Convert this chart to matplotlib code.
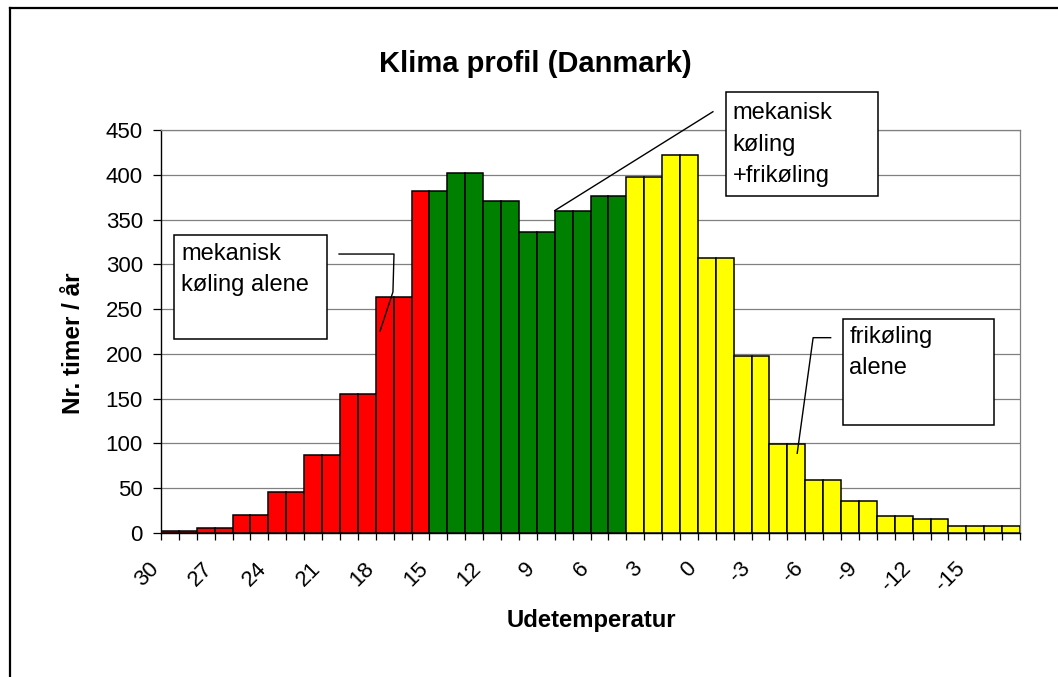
import matplotlib
matplotlib.use('Agg')
import matplotlib.pyplot as plt
import matplotlib.transforms as mtransforms
from matplotlib.patches import Rectangle
from matplotlib.lines import Line2D
import numpy as np

plt.rcParams['font.family'] = ['Liberation Sans', 'DejaVu Sans']

# Data: hours per year at each outdoor temperature (30 .. -17 C)
temps = list(range(30, -18, -1))
hours = [2, 2, 6, 6, 20, 20, 46, 46, 87, 87, 155, 155, 264, 264, 382,
         382, 402, 402, 371, 371, 336, 336, 360, 360, 376, 376,
         397, 397, 422, 422, 307, 307, 198, 198, 99, 99, 59, 59, 36, 36,
         19, 19, 16, 16, 8, 8, 8, 8]
label_step = 3
mech_only_above = 15   # mekanisk køling alene
free_only_below = 5    # frikøling alene

title = 'Klima profil (Danmark)'
xlabel = 'Udetemperatur'
ylabel = 'Nr. timer / år'
notes = ['mekanisk\nkøling alene', 'mekanisk\nkøling\n+frikøling', 'frikøling\nalene']

W, H = 1058, 677
fig = plt.figure(figsize=(W / 100, H / 100), dpi=100)
ax = fig.add_axes([161 / W, 1 - 533 / H, (1020 - 161) / W, (533 - 130) / H])

def zone_color(t):
    if t > mech_only_above:
        return '#FF0000'
    if t < free_only_below:
        return '#FFFF00'
    return '#008000'

x = np.arange(len(temps))
ax.bar(x, hours, width=1.0, align='edge', color=[zone_color(t) for t in temps],
       edgecolor='black', linewidth=1.1, zorder=3)

ax.set_xlim(0, len(temps))
ax.set_ylim(0, 450)
ax.set_yticks(np.arange(0, 451, 50))
ax.yaxis.grid(True, color='#808080', linewidth=0.9, zorder=0)
ax.tick_params(axis='y', direction='out', length=6, width=0.9, labelsize=16, pad=7)

ax.set_xticks(x[::label_step])
ax.set_xticklabels([str(t) for t in temps[::label_step]], rotation=45,
                   ha='right', va='baseline', rotation_mode='anchor', fontsize=16)
ax.set_xticks(np.arange(len(temps) + 1), minor=True)
ax.tick_params(axis='x', which='both', direction='out', length=5, width=0.9)
ax.tick_params(axis='x', which='major', pad=21)
shift = mtransforms.ScaledTranslation(-1 / 100, 0, fig.dpi_scale_trans)
for lab in ax.get_xticklabels():
    lab.set_transform(lab.get_transform() + shift)

for s in ['top', 'right']:
    ax.spines[s].set_color('#808080')
    ax.spines[s].set_linewidth(0.9)
for s in ['left', 'bottom']:
    ax.spines[s].set_color('black')
    ax.spines[s].set_linewidth(1.0)

fig.text(535.5 / W, 1 - 72 / H, title, ha='center', va='baseline',
         fontsize=21, fontweight='bold')
fig.text(591.5 / W, 1 - 627 / H, xlabel, ha='center', va='baseline',
         fontsize=17.2, fontweight='bold')
fig.text(74 / W, 1 - 343 / H, ylabel, ha='center', va='center', rotation=90,
         fontsize=17.5, fontweight='bold')

# Annotation boxes (data coordinates)
boxes = [(0.73, 216.6, 8.55, 116.5), (31.55, 376.3, 8.49, 115.8), (38.09, 120.6, 8.44, 118.0)]
text_pos = [(1.12, 324.0), (31.94, 481.0), (38.46, 231.0)]
leaders = [([9.95, 13.02, 12.96, 12.24], [311.5, 311.5, 269.1, 225.5]),
           ([30.84, 22.0], [470.4, 360]),
           ([37.42, 36.44, 35.55], [218.1, 218.1, 89.0])]

for (bx, by, bw, bh), (tx, ty), note, (lx, ly) in zip(boxes, text_pos, notes, leaders):
    ax.add_patch(Rectangle((bx, by), bw, bh, facecolor='white', edgecolor='black',
                           linewidth=1.1, zorder=5, clip_on=False))
    ax.text(tx, ty, note, ha='left', va='top', fontsize=17, linespacing=1.55,
            zorder=6, clip_on=False)
    ax.plot(lx, ly, color='black', linewidth=1.0, zorder=6, clip_on=False)

# Outer chart frame (only left and top edges visible)
fig.add_artist(Line2D([10 / W, 10 / W], [0, 1 - 8 / H], color='black', linewidth=1.6))
fig.add_artist(Line2D([10 / W, 1], [1 - 8 / H, 1 - 8 / H], color='black', linewidth=1.6))

fig.savefig('out.png', dpi=100)
